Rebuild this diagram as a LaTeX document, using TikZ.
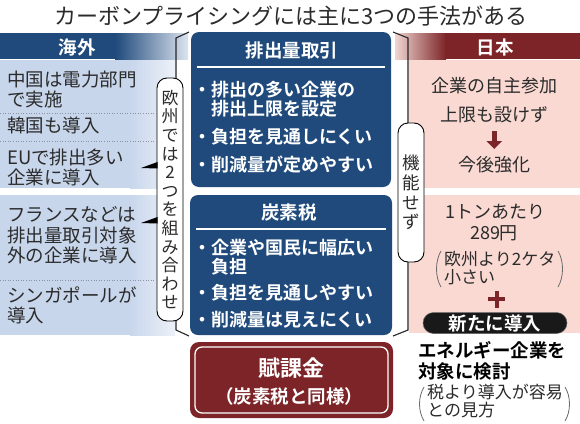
\documentclass[tikz,border=0pt]{standalone}
\usepackage{fontspec}
\setmainfont{Noto Sans CJK JP}[BoldFont={Noto Sans CJK JP Bold}]
\definecolor{dblue}{HTML}{1F4A7B}
\definecolor{lblue}{HTML}{C8D6EC}
\definecolor{lbluefade}{HTML}{EDF1F8}
\definecolor{hbluefade}{HTML}{DCE3EF}
\definecolor{dred}{HTML}{7C2427}
\definecolor{pinkbg}{HTML}{F9D9D2}
\definecolor{hredfade}{HTML}{F0D6D2}
\definecolor{txt}{HTML}{2B2B2B}
\definecolor{dotc}{HTML}{8A93A3}
\begin{document}
\begin{tikzpicture}[x=1pt,y=-1pt,
  lt/.style={anchor=west,align=left,inner sep=0pt,text=txt,font=\fontsize{18.5}{20.5}\selectfont},
  rt/.style={anchor=center,align=center,inner sep=0pt,text=txt,font=\fontsize{18}{20}\selectfont},
  smalltxt/.style={anchor=west,align=left,inner sep=0pt,text=txt,font=\fontsize{17}{18}\selectfont},
  bul/.style={anchor=west,align=left,inner sep=0pt,text=white,font=\bfseries\fontsize{18}{19.5}\selectfont},
  ttl/.style={anchor=center,inner sep=0pt,text=white,font=\bfseries\fontsize{18.5}{20}\selectfont},
  mbox/.style={fill=dblue,rounded corners=8pt},
  lbox/.style={draw=black,line width=0.9pt,fill=white,rounded corners=10pt,inner sep=0pt,align=center,text=txt,font=\fontsize{17}{18.6}\selectfont},
  brk/.style={draw=black!85,line width=1.1pt},
  sep/.style={draw=dotc,line width=0.7pt,dash pattern=on 1pt off 1.6pt},
  paren/.style={draw=txt!70,line width=0.8pt}
]
\useasboundingbox (0,0) rectangle (580,423);
\fill[white] (0,0) rectangle (580,423);

% title
\node[anchor=center,inner sep=0pt,text=txt,font=\fontsize{22}{24}\selectfont] (title) at (291,16) {カーボンプライシングには主に3つの手法がある};

% left header and body
\fill[dblue] (0,33) rectangle (116,59);
\shade[left color=dblue,right color=hbluefade] (115,33) rectangle (188,59);
\fill[lblue] (0,60) rectangle (131,188);
\shade[left color=lblue,right color=lbluefade] (130,60) rectangle (175,188);
\fill[lblue] (0,195) rectangle (131,335);
\shade[left color=lblue,right color=lbluefade] (130,195) rectangle (175,335);
\node[ttl] (kaigai) at (77,47) {海外};
\draw[sep] (0,113) -- (156,113);
\draw[sep] (0,141) -- (156,141);
\draw[sep] (0,280) -- (156,280);

% right header and body
\shade[left color=hredfade,right color=dred] (395,33) rectangle (446,59);
\fill[dred] (445,33) rectangle (580,59);
\fill[pinkbg] (409,60) rectangle (580,188);
\fill[pinkbg] (409,195) rectangle (580,333);
\node[ttl] (nihon) at (495,47) {日本};

% middle boxes
\fill[mbox] (191,32) rectangle (391,187);
\fill[mbox] (190,195) rectangle (392,335);
\fill[dred,rounded corners=9pt] (190,342) rectangle (393,418);
\draw[white,line width=1.3pt,rounded corners=7pt] (195,347) rectangle (388,413);

\node[ttl] (ets) at (292,50) {排出量取引};
\draw[white,line width=1.4pt] (197,67) -- (385,67);
\node[bul] (e1) at (211,99) {\llap{・}排出の多い企業の\\排出上限を設定};
\node[bul] (e2) at (211,137) {\llap{・}負担を見通しにくい};
\node[bul] (e3) at (211,165) {\llap{・}削減量が定めやすい};

\node[ttl] (ctax) at (289,212) {炭素税};
\draw[white,line width=1.4pt] (196,229) -- (386,229);
\node[bul] (c1) at (211,257) {\llap{・}企業や国民に幅広い\\負担};
\node[bul] (c2) at (211,293) {\llap{・}負担を見通しやすい};
\node[bul] (c3) at (211,320) {\llap{・}削減量は見えにくい};

\node[anchor=center,inner sep=0pt,text=white,font=\bfseries\fontsize{22}{24}\selectfont] (fuka) at (291,368) {賦課金};
\node[anchor=center,inner sep=0pt,text=white,font=\bfseries\fontsize{18.5}{20}\selectfont] (fuka2) at (289,396) {（炭素税と同様）};

% left column texts
\node[lt] (china) at (7,89.5) {中国は電力部門\\で実施};
\node[lt] (korea) at (7,125) {韓国も導入};
\node[lt] (eu) at (7,167.5) {EUで排出多い\\企業に導入};
\node[lt] (france) at (7,235.5) {フランスなどは\\排出量取引対象\\外の企業に導入};
\node[lt] (sing) at (7,305.5) {シンガポールが\\導入};

% brackets
\draw[brk] (189,32) -- (176,38) -- (176,330) -- (189,336);
\draw[brk] (393,32) -- (408,38) -- (408,330) -- (393,336);
\node[lbox,minimum width=26pt,minimum height=243pt] (eubox) at (170,199.5) {欧\\州\\で\\は\\2\\つ\\を\\組\\み\\合\\わ\\せ};
\node[lbox,minimum width=26pt,minimum height=139pt,font=\fontsize{17.5}{19.7}\selectfont] (jpbox) at (411,192.5) {機\\能\\せ\\ず};
% pointers
\fill[black] (141,168) -- (157.5,162) -- (157.5,168.5) -- cycle;
\fill[black] (141,223) -- (157.5,217) -- (157.5,223.5) -- cycle;

% right column texts
\node[rt] (j1) at (494,86) {企業の自主参加};
\node[rt] (j2) at (494,115) {上限も設けず};
\fill[dred] (492,131) rectangle (496.5,141.5);
\fill[dred] (486.5,141) -- (502,141) -- (494.25,149) -- cycle;
\node[rt] (j3) at (494,165) {今後強化};
\node[rt] (j4) at (495,212) {1トンあたり};
\node[rt] (j5) at (494,233) {289円};
\node[smalltxt] (j6) at (444,268) {欧州より2ケタ\\小さい};
\draw[paren] (441,251) .. controls (435,261) and (435,277) .. (441,287);
\draw[paren] (558,251) .. controls (564,261) and (564,277) .. (558,287);
\fill[dred] (488,297.3) rectangle (505,301.3);
\fill[dred] (494.5,291) rectangle (498.5,307.5);
\node[fill=black!90,draw=black!60,line width=0.5pt,rounded corners=10.5pt,minimum width=144pt,minimum height=21pt,inner sep=0pt,text=white,font=\bfseries\fontsize{18.5}{20}\selectfont] (pill) at (495,323) {新たに導入};
\node[anchor=west,align=left,inner sep=0pt,text=black,font=\bfseries\fontsize{18.5}{21}\selectfont] (j7) at (418,360.5) {エネルギー企業を\\対象に検討};
\node[smalltxt] (j8) at (427,401) {税より導入が容易\\との見方};
\draw[paren] (424,387) .. controls (418,397) and (418,411) .. (424,421);
\draw[paren] (565,387) .. controls (571,397) and (571,411) .. (565,421);
\end{tikzpicture}
\end{document}
